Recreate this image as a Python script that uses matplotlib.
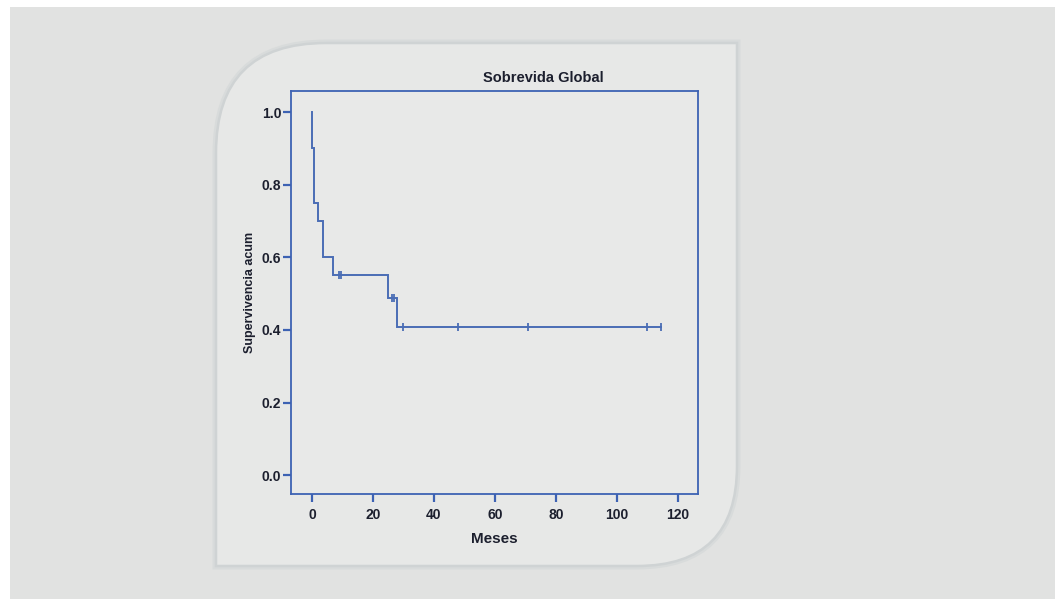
import numpy as np
import matplotlib
matplotlib.use('Agg')
import matplotlib.pyplot as plt
from matplotlib.path import Path
from matplotlib.patches import PathPatch, Rectangle

plt.rcParams['font.family'] = ['Liberation Sans', 'DejaVu Sans']

# Kaplan-Meier steps (time in months, survival after the event)
event_times = [0.0, 0.8, 2.1, 3.7, 6.8, 24.8, 27.8]
event_surv = [0.90, 0.75, 0.70, 0.60, 0.55, 0.489, 0.407]
censored_times = [8.7, 9.5, 26.1, 27.0, 30.0, 48.0, 71.0, 110.0, 114.3]
end_time = 114.3

x_ticks = [0, 20, 40, 60, 80, 100, 120]
y_ticks = [0.0, 0.2, 0.4, 0.6, 0.8, 1.0]

title = 'Sobrevida Global'
x_label = 'Meses'
y_label = 'Supervivencia acum'

blue = '#3d62b3'
curve_col = '#4a6db5'
text_col = '#1c1f2e'

W, H = 1055, 599
fig = plt.figure(figsize=(W / 100, H / 100), dpi=100)
fig.patch.set_facecolor('white')

# background page + rounded frame, drawn in pixel coordinates
bg = fig.add_axes([0, 0, 1, 1], zorder=0)
bg.set_xlim(0, W)
bg.set_ylim(H, 0)
bg.axis('off')
bg.add_patch(Rectangle((10, 7), W - 10, H - 7, facecolor='#e1e2e1', edgecolor='none'))

L, T, R, B = 216, 43, 737, 566
r1, r2 = 110, 100
verts = [(L + r1, T), (R, T), (R, B - r2), (R, B), (R - r2, B),
         (L, B), (L, T + r1), (L, T), (L + r1, T), (L + r1, T)]
codes = [Path.MOVETO, Path.LINETO, Path.LINETO, Path.CURVE3, Path.CURVE3,
         Path.LINETO, Path.LINETO, Path.CURVE3, Path.CURVE3, Path.CLOSEPOLY]
frame = Path(verts, codes)
# soft shadow-ish border
bg.add_patch(PathPatch(frame, facecolor='none', edgecolor='#d8dbdb', lw=5))
bg.add_patch(PathPatch(frame, facecolor='#e7e8e7', edgecolor='#cfd3d4', lw=1.8))

# chart axes
ax = fig.add_axes([291 / W, 1 - 494 / H, (698 - 291) / W, (494 - 91) / H], zorder=1)
ax.set_facecolor('#e8e9e8')
ax.set_xlim(-6.9, 126.6)
ax.set_ylim(-0.052, 1.058)

# build step curve from the data
xs, ys = [0.0], [1.0]
s = 1.0
for t, sv in zip(event_times, event_surv):
    xs += [t, t]
    ys += [s, sv]
    s = sv
xs.append(end_time)
ys.append(s)
ax.plot(xs, ys, color=curve_col, lw=1.4, solid_joinstyle='miter')

def surv_at(t):
    val = 1.0
    for et, sv in zip(event_times, event_surv):
        if et <= t:
            val = sv
    return val

cens_y = [surv_at(t) for t in censored_times]
ax.plot(censored_times, cens_y, ls='none', marker='|', ms=6, mew=1.3, color=curve_col)

for sp in ax.spines.values():
    sp.set_color(blue)
    sp.set_linewidth(1.3)

ax.set_xticks(x_ticks)
ax.set_yticks(y_ticks)
ax.set_yticklabels([f'{v:.1f}' for v in y_ticks])
ax.tick_params(direction='out', length=6, width=1.6, color=blue,
               labelsize=10, labelcolor=text_col)
ax.tick_params(axis='x', pad=4)
ax.tick_params(axis='y', pad=1)
for lab in ax.get_xticklabels() + ax.get_yticklabels():
    lab.set_fontweight('bold')

ax.set_xlabel(x_label, fontsize=11, fontweight='bold', color=text_col, labelpad=7)
ax.set_ylabel(y_label, fontsize=9, fontweight='bold', color=text_col, labelpad=4)
fig.text(543 / W, 1 - 78 / H, title, ha='center', va='center',
         fontsize=10.5, fontweight='bold', color=text_col)

fig.savefig('out.png', dpi=100, facecolor=fig.get_facecolor())
